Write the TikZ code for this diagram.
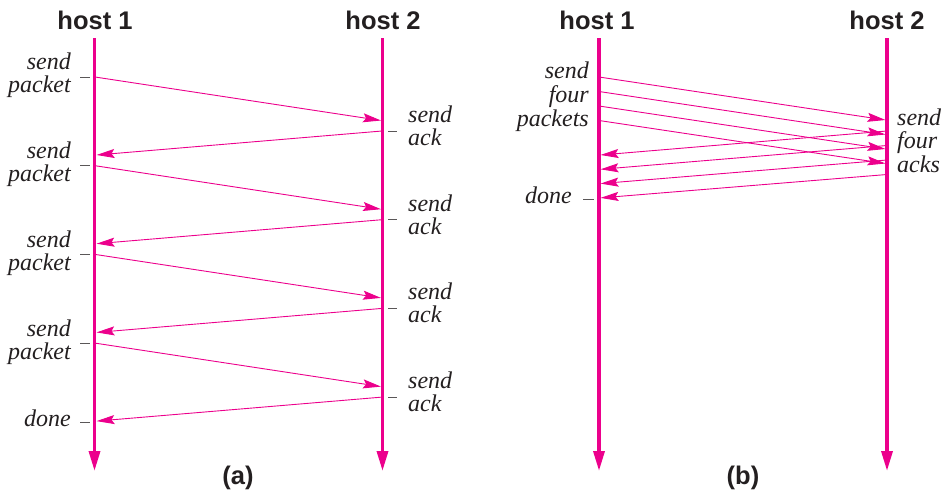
\documentclass[tikz,border=0pt]{standalone}
\usepackage{fontspec}
\setmainfont{Liberation Serif}
\setsansfont{Liberation Sans}
\usetikzlibrary{arrows.meta}
\definecolor{mag}{HTML}{EC008C}
\definecolor{ink}{HTML}{231F20}
\begin{document}
\begin{tikzpicture}[x=1pt,y=-1pt,
  hostline/.style={draw=mag,line width=3.4pt,-{Triangle[length=20pt,width=11pt]}},
  msg/.style={draw=mag,line width=0.9pt,-{Stealth[length=18pt,width=9pt,inset=3pt]}},
  tickmark/.style={draw=ink!75,line width=0.9pt},
  title/.style={font=\fontsize{25.5}{30}\selectfont\sffamily\bfseries,text=ink,inner sep=0pt},
  lbl/.style={font=\fontsize{24}{23}\selectfont\itshape,text=ink,inner sep=0pt,align=right},
  rlbl/.style={lbl,align=left},
  blbl/.style={font=\fontsize{24}{23.8}\selectfont\itshape,text=ink,inner sep=0pt}
]
\useasboundingbox (0,0) rectangle (950,493);

% ---------- panel (a) ----------
\node[title,anchor=base] (ah1) at (95,29) {host 1};
\node[title,anchor=base] (ah2) at (383,29) {host 2};
\coordinate (a1top) at (94.5,38);
\coordinate (a1bot) at (94.5,471);
\coordinate (a2top) at (382.5,38);
\coordinate (a2bot) at (382.5,471);
\draw[hostline] (a1top) -- (a1bot);
\draw[hostline] (a2top) -- (a2bot);

\foreach \k in {0,1,2,3}{
  \pgfmathsetmacro\o{88.7*\k}
  \coordinate (ap\k s) at (95,77+\o);
  \coordinate (ap\k e) at (381,120.5+\o);
  \coordinate (aa\k s) at (382,131+\o);
  \coordinate (aa\k e) at (96.5,155+\o);
  \draw[msg] (ap\k s) -- (ap\k e);
  \draw[msg] (aa\k s) -- (aa\k e);
  \draw[tickmark] (80,77+\o) -- (90,77+\o);
  \draw[tickmark] (388,131+\o) -- (397,131+\o);
  \node[lbl,anchor=east] (al\k) at (71,75.7+\o) {send\\packet};
  \node[rlbl,anchor=west] (ar\k) at (408,125.7+\o) {send\\ack};
}
\draw[tickmark] (80,422) -- (90,422);
\node[lbl,anchor=base east] (adone) at (71,426) {done};
\node[title,anchor=base] (acap) at (238,484) {(a)};

% ---------- panel (b) ----------
\node[title,anchor=base] (bh1) at (597,29) {host 1};
\node[title,anchor=base] (bh2) at (887,29) {host 2};
\coordinate (b1top) at (599,38);
\coordinate (b1bot) at (599,471);
\coordinate (b2top) at (887,38);
\coordinate (b2bot) at (887,471);
\draw[hostline] (b1top) -- (b1bot);
\draw[hostline] (b2top) -- (b2bot);

\foreach \k in {0,1,2,3}{
  \pgfmathsetmacro\o{14.5*\k}
  \pgfmathsetmacro\q{14.3*\k}
  \coordinate (bp\k s) at (599,77+\o);
  \coordinate (bp\k e) at (885.5,120+\o);
  \coordinate (ba\k s) at (887,131+\o);
  \coordinate (ba\k e) at (600.5,155+\q);
  \draw[msg] (bp\k s) -- (bp\k e);
  \draw[msg] (ba\k s) -- (ba\k e);
}
\node[blbl,anchor=east,align=right] (bl) at (589,96.8) {send\\four\\packets};
\node[blbl,anchor=west,align=left] (br) at (897,140.7) {send\\four\\acks};
\draw[tickmark] (583,199) -- (594,199);
\node[lbl,anchor=base east] (bdone) at (572,203) {done};
\node[title,anchor=base] (bcap) at (743,484) {(b)};
\end{tikzpicture}
\end{document}
